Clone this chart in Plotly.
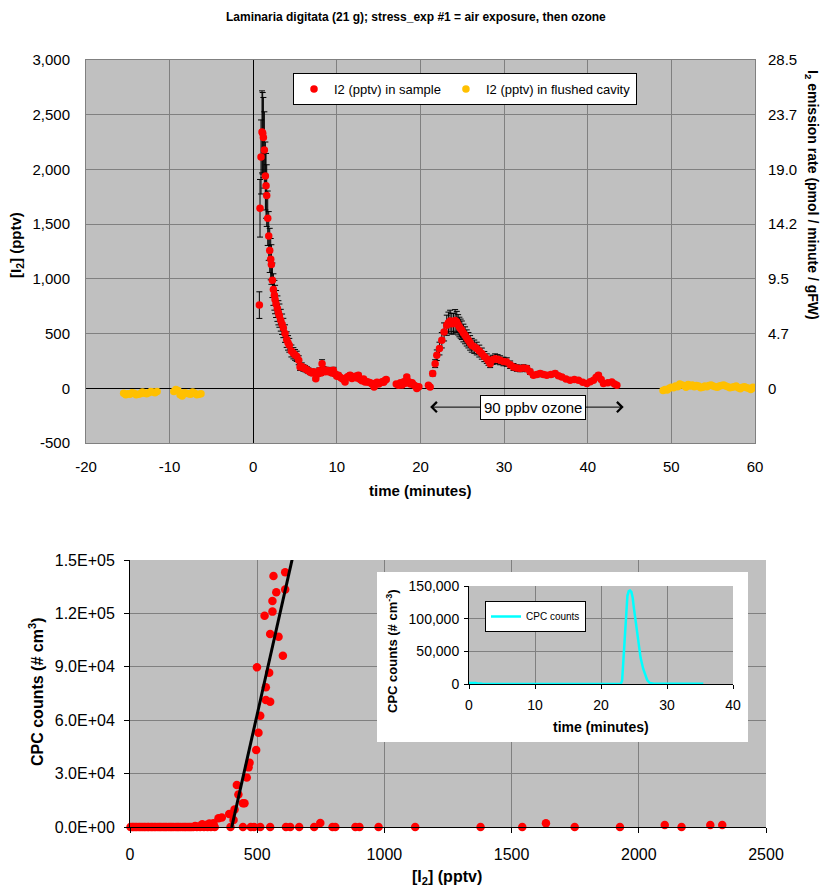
import plotly.graph_objects as go

# ---------------- data: top chart ----------------
t_sample = [0.73, 0.81, 0.93, 1.05, 1.13, 1.21, 1.33, 1.45, 1.53, 1.61, 1.73, 1.85, 1.97, 2.09, 2.17,
            2.29, 2.41, 2.53, 2.61, 2.73, 2.89, 3.01, 3.13, 3.29, 3.45, 3.6, 3.8, 4.0, 4.16, 4.31,
            4.56, 4.8, 5.0, 5.2, 5.44, 5.6, 5.8, 6.0, 6.2, 6.4, 6.6, 6.8, 7.0, 7.2, 7.48, 7.7, 7.9,
            8.1, 8.23, 8.4, 8.6, 8.79, 9.0, 9.2, 9.4, 9.58, 9.8, 10.0, 10.18, 10.4, 10.6, 10.8,
            10.98, 11.2, 11.4, 11.58, 11.8, 12.0, 12.2, 12.4, 12.57, 12.8, 13.0, 13.2, 13.37, 13.6,
            13.8, 14.0, 14.2, 14.45, 14.6, 14.8, 15.0, 15.2, 15.4, 15.6, 15.77, 15.9,
            17.1, 17.36, 17.6, 17.8, 18.0, 18.2, 18.36, 18.6, 18.8, 19.0, 19.2, 19.4, 19.56, 19.8,
            20.95, 21.15, 21.46, 21.75, 21.95, 22.27, 22.55, 22.82, 23.14, 23.34, 23.54, 23.74,
            23.94, 24.14, 24.34, 24.5, 24.65, 24.8, 24.94, 25.13, 25.33, 25.53, 25.73, 25.93, 26.13,
            26.43, 26.73, 27.03, 27.33, 27.63, 27.93, 28.13, 28.33, 28.62, 28.92, 29.22, 29.52,
            29.92, 30.32, 30.72, 31.12, 31.52, 31.91, 32.31, 32.71, 33.11, 33.51, 33.91, 34.31,
            34.71, 35.1, 35.6, 36.1, 36.5, 36.9, 37.4, 37.89, 38.4, 38.89, 39.4, 39.89, 40.3,
            40.68, 41.0, 41.28, 41.6, 41.88, 42.4, 42.88, 43.2, 43.48]
i2_sample = [760, 1645, 2114, 2343, 2330, 2291, 2178, 1940, 1850, 1761, 1554, 1392, 1260, 1180, 1131,
             987, 902, 850, 811, 770, 728, 690, 664, 622, 585, 551, 500, 445, 415, 393,
             341, 320, 305, 292, 256, 195, 200, 185, 180, 170, 160, 149, 140, 150, 88, 130, 160,
             140, 225, 170, 150, 165, 150, 160, 140, 165, 130, 110, 119, 100, 90, 80,
             58, 100, 110, 119, 90, 100, 110, 95, 119, 80, 70, 85, 58, 60,
             55, 50, 40, 12, 45, 55, 40, 50, 60, 55, 73, 80,
             40, 27, 50, 30, 60, 45, 103, 60, 40, 50, 30, 20, -3, 15,
             27, 12, 134, 225, 302, 363, 439, 515, 576, 600, 615, 590,
             591, 620, 606, 580, 560, 545, 530, 505, 484, 460, 439, 415, 393,
             380, 363, 340, 317, 290, 271, 250, 225, 260, 271, 265, 256,
             245, 240, 215, 195, 185, 180, 185, 180, 150, 119, 125, 134,
             125, 119, 125, 134, 115, 103, 85, 73, 80, 73, 55, 43, 60,
             73, 100, 119, 80, 43, 50, 58, 40, 27]

t_cavity = [-15.5, -15.25, -15.0, -14.75, -14.5, -14.25, -14.0, -13.75, -13.5, -13.25, -13.0, -12.75,
            -12.5, -12.25, -12.0, -11.75, -11.5,
            -9.5, -9.25, -9.0, -8.75, -8.5, -8.25, -8.0, -7.75, -7.5, -7.25, -7.0, -6.75, -6.5, -6.25,
            49.0, 49.25, 49.5, 49.75, 50.0, 50.25, 50.5, 50.75, 51.0, 51.25, 51.5, 51.75, 52.0, 52.25,
            52.5, 52.75, 53.0, 53.25, 53.5, 53.75, 54.0, 54.25, 54.5, 54.75, 55.0, 55.25, 55.5, 55.75,
            56.0, 56.25, 56.5, 56.75, 57.0, 57.25, 57.5, 57.75, 58.0, 58.25, 58.5, 58.75, 59.0, 59.25,
            59.5, 59.75, 60.0]
i2_cavity = [-45, -60, -50, -55, -40, -45, -60, -55, -50, -35, -45, -50, -40, -30, -35, -40, -30,
             -30, -10, -20, -60, -70, -40, -45, -50, -55, -35, -45, -60, -55, -50,
             -20, -10, -15, 0, 10, 5, 20, 15, 40, 30, 25, 10, 35, 20,
             30, 15, 25, 20, 5, 10, 20, 15, 25, 30, 20, 15, 10, 20,
             25, 30, 20, 15, 5, 10, 15, 20, 5, -5, 10, 15, 5, 0,
             -10, 10, 5]

time_tick_pos = [-20, -10, 0, 10, 20, 30, 40, 50, 60]
time_tick_labels = ['-20', '-10', '0', '10', '20', '30', '40', '50', '60']
i2_tick_pos = [-500, 0, 500, 1000, 1500, 2000, 2500, 3000]
i2_tick_labels = ['-500', '0', '500', '1,000', '1,500', '2,000', '2,500', '3,000']
rate_tick_pos = [0, 500, 1000, 1500, 2000, 2500, 3000]
rate_tick_labels = ['0', '4.7', '9.5', '14.2', '19.0', '23.7', '28.5']

# ---------------- data: bottom chart ----------------
i2_scatter = [2, 9, 14, 21, 27, 35, 41, 48, 55, 61, 69, 74, 82, 88, 95, 101, 109, 116, 122, 130,
              137, 143, 151, 158, 164, 171, 179, 186, 192, 199, 207, 214, 220, 228, 235, 241, 249,
              256, 263, 270, 276, 284, 291, 298, 305, 312, 318, 326, 333,
              564, 610, 575, 610, 560, 560, 529, 551, 584, 601, 499, 547, 534, 534, 551, 512, 505,
              496, 470, 466, 459, 420, 426, 444, 450, 411, 390, 361, 348, 407, 328, 302,
              395, 444, 475, 488, 512, 551, 613, 630, 665, 724, 748, 796, 807, 886, 902, 977,
              1121, 1378, 1542, 1635, 1748, 1926, 2102, 2168, 2281, 2328]
cpc_scatter = [0, 0, 0, 0, 0, 0, 0, 0, 0, 0, 0, 0, 0, 0, 0, 0, 0, 0, 0, 0,
               0, 0, 0, 0, 0, 0, 0, 0, 0, 0, 0, 0, 0, 0, 0, 0, 0,
               600, 0, 300, 0, 1500, 0, 1100, 0, 2000, 0, 900, 0,
               141000, 143100, 131900, 133400, 127000, 121000, 118700, 108400, 106900, 96200, 89700,
               86700, 78500, 71300, 70400, 62500, 53000,
               43300, 36100, 33500, 27800, 23600, 18300, 13300, 13300, 9800, 7300, 5400, 4900, 3900,
               2100, 1100,
               0, 0, 0, 0, 0, 0, 0, 0, 0, 0, 2200, 0, 0, 0, 0, 0,
               0, 0, 0, 2100, 0, 0, 1100, 0, 1100, 1100]
fit_i2 = [400, 640]
fit_cpc = [0, 152000]
cpc_y_ticks = [0, 30000, 60000, 90000, 120000, 150000]
cpc_y_labels = ['0.0E+00', '3.0E+04', '6.0E+04', '9.0E+04', '1.2E+05', '1.5E+05']

# ---------------- data: inset ----------------
cpc_time = [0, 0.5, 1, 1.5, 2, 5, 10, 15, 20, 22, 23, 23.2, 23.4, 23.6, 23.8, 24.0, 24.2, 24.4,
            24.6, 24.8, 25.0, 25.3, 25.65, 26.0, 26.4, 26.7, 27.0, 27.4, 28, 30, 33, 35.5]
cpc_counts = [1500, 1800, 1500, 600, 200, 150, 100, 100, 120, 150, 300, 5000, 36700, 80000, 115000,
              135000, 142000, 143000, 141000, 132000, 115000, 90000, 62000, 40000, 23000, 13800,
              6000, 1500, 500, 300, 200, 200]

# ---------------- layout helpers ----------------
# the page body has an 8px margin, so the figure is drawn 8px in from the top-left corner
OFF = 8
W, H = 833 - OFF, 886 - OFF
FONT = 'Liberation Sans, Arial, sans-serif'
BG = '#C0C0C0'
GRID = '#808080'


def fx(p):
    return (p - OFF) / W


def fy(p):
    return 1 - (p - OFF) / H


fig = go.Figure()

fig.add_trace(go.Scatter(
    x=t_sample, y=i2_sample, mode='markers', name='I2 (pptv) in sample',
    marker=dict(color='#FF0000', size=7.5),
    error_y=dict(type='percent', value=16, color='black', thickness=1, width=3),
    xaxis='x', yaxis='y', cliponaxis=False))
fig.add_trace(go.Scatter(
    x=t_cavity, y=i2_cavity, mode='markers', name='I2 (pptv) in flushed cavity',
    marker=dict(color='#FFC000', size=7.5),
    error_y=dict(type='constant', value=12, color='black', thickness=1, width=2),
    xaxis='x', yaxis='y'))
# invisible trace to carry the right-hand axis
fig.add_trace(go.Scatter(x=[0], y=[0], mode='markers', marker=dict(opacity=0),
                         showlegend=False, hoverinfo='skip', xaxis='x', yaxis='y2'))

# bottom chart: white backing for the inset (decoration, placed from the axis ranges)
bx0, bx1 = (377 - 130) / 636 * 2500, (748 - 130) / 636 * 2500
by0, by1 = (827 - 742) / 267 * 150000, (827 - 572) / 267 * 150000
fig.add_trace(go.Scatter(x=[bx0, bx1, bx1, bx0, bx0], y=[by0, by0, by1, by1, by0], mode='lines',
                         fill='toself', fillcolor='white', line=dict(width=0, color='white'),
                         showlegend=False, hoverinfo='skip', xaxis='x2', yaxis='y3'))
fig.add_trace(go.Scatter(
    x=i2_scatter, y=cpc_scatter, mode='markers', showlegend=False,
    marker=dict(color='#FF0000', size=8.5), xaxis='x2', yaxis='y3', cliponaxis=False))
fig.add_trace(go.Scatter(
    x=fit_i2, y=fit_cpc, mode='lines', showlegend=False,
    line=dict(color='black', width=3), xaxis='x2', yaxis='y3'))

fig.add_trace(go.Scatter(
    x=cpc_time, y=cpc_counts, mode='lines', name='CPC counts',
    line=dict(color='#00FFFF', width=2.5), xaxis='x3', yaxis='y4', legend='legend2'))

axis_common = dict(showgrid=True, gridcolor=GRID, gridwidth=1, tickfont=dict(family=FONT, size=15, color='black'))

fig.update_layout(
    width=W, height=H,
    margin=dict(l=0, r=0, t=0, b=0, pad=0, autoexpand=False),
    paper_bgcolor='white', plot_bgcolor=BG,
    font=dict(family=FONT, color='black'),
    xaxis=dict(domain=[fx(86), fx(755)], anchor='y', range=[-20, 60],
               tickmode='array', tickvals=time_tick_pos, ticktext=time_tick_labels,
               zeroline=True, zerolinecolor='black', zerolinewidth=1,
               showline=True, linecolor=GRID, mirror=True, ticks='', ticklabelstandoff=10,
               **axis_common),
    yaxis=dict(domain=[fy(443), fy(60)], anchor='x', range=[-500, 3000],
               tickmode='array', tickvals=i2_tick_pos, ticktext=i2_tick_labels,
               zeroline=True, zerolinecolor='black', zerolinewidth=1,
               showline=True, linecolor=GRID, mirror=True, ticks='', ticklabelstandoff=12,
               **axis_common),
    yaxis2=dict(overlaying='y', side='right', anchor='x', range=[-500, 3000],
                tickmode='array', tickvals=rate_tick_pos, ticktext=rate_tick_labels,
                showgrid=False, zeroline=False, showline=False, ticks='', ticklabelstandoff=12,
                tickfont=dict(family=FONT, size=15, color='black')),
    xaxis2=dict(domain=[fx(130), fx(766)], anchor='y3', range=[0, 2500], dtick=500, tick0=0,
                zeroline=False, showline=True, linecolor='black', linewidth=1,
                ticks='outside', ticklen=5, tickcolor='black', ticklabelstandoff=8,
                showgrid=True, gridcolor=GRID, tickfont=dict(family=FONT, size=16, color='black')),
    yaxis3=dict(domain=[fy(827), fy(560)], anchor='x2', range=[0, 150000],
                tickmode='array', tickvals=cpc_y_ticks, ticktext=cpc_y_labels,
                zeroline=False, showline=True, linecolor='black', linewidth=1,
                ticks='outside', ticklen=5, tickcolor='black', ticklabelstandoff=6,
                showgrid=True, gridcolor=GRID, tickfont=dict(family=FONT, size=16, color='black')),
    xaxis3=dict(domain=[fx(469), fx(733)], anchor='y4', range=[0, 40], dtick=10, tick0=0,
                zeroline=False, showline=True, linecolor='black', linewidth=1,
                ticks='outside', ticklen=4, tickcolor='black', ticklabelstandoff=4,
                showgrid=True, gridcolor=GRID, tickfont=dict(family=FONT, size=14, color='black')),
    yaxis4=dict(domain=[fy(684), fy(586)], anchor='x3', range=[0, 150000],
                tickmode='array', tickvals=[0, 50000, 100000, 150000], tickformat=',',
                zeroline=False, showline=True, linecolor='black', linewidth=1,
                ticks='outside', ticklen=4, tickcolor='black', ticklabelstandoff=2,
                showgrid=True, gridcolor=GRID, tickfont=dict(family=FONT, size=14, color='black')),
    legend=dict(x=fx(293), y=fy(73), xanchor='left', yanchor='top', orientation='h',
                bgcolor='white', bordercolor='black', borderwidth=1,
                font=dict(family=FONT, size=13, color='black'), itemwidth=30),
    legend2=dict(x=fx(485), y=fy(601), xanchor='left', yanchor='top',
                 bgcolor='white', bordercolor='black', borderwidth=1,
                 font=dict(family=FONT, size=10, color='black')),
    showlegend=True,
)

ann = []


def label(text, x, y, size, angle=0, bold=True):
    ann.append(dict(text=('<b>%s</b>' % text) if bold else text, x=fx(x), y=fy(y),
                    xref='paper', yref='paper', showarrow=False, textangle=angle,
                    xanchor='center', yanchor='middle',
                    font=dict(family=FONT, size=size, color='black')))


label('Laminaria digitata (21 g); stress_exp #1 = air exposure, then ozone', 416, 17, 12)
label('[I<sub>2</sub>] (pptv)', 16, 245, 15, -90)
label('I<sub>2</sub> emission rate (pmol / minute / gFW)', 812, 195, 14, 90)
label('time (minutes)', 420, 491, 15)
label('CPC counts (# cm<sup>3</sup>)', 36, 692, 16, -90)
label('[I<sub>2</sub>] (pptv)', 447, 877, 16)
label('CPC counts (# cm<sup>-3</sup>)', 392, 651, 13, -90)
label('time (minutes)', 601, 727, 14)

# ozone exposure arrows and label
for xe in (21.15, 44.3):
    ann.append(dict(x=xe, y=-172, ax=32.8, ay=-172, xref='x', yref='y', axref='x', ayref='y',
                    text='', showarrow=True, arrowhead=4, arrowsize=2, arrowwidth=1,
                    arrowcolor='black'))
ann.append(dict(x=33.47, y=-175, xref='x', yref='y', text='90 ppbv ozone', showarrow=False,
                bgcolor='white', bordercolor='black', borderwidth=1, borderpad=3,
                font=dict(family=FONT, size=15, color='black')))

fig.update_layout(annotations=ann)

fig.write_html('out.html')
